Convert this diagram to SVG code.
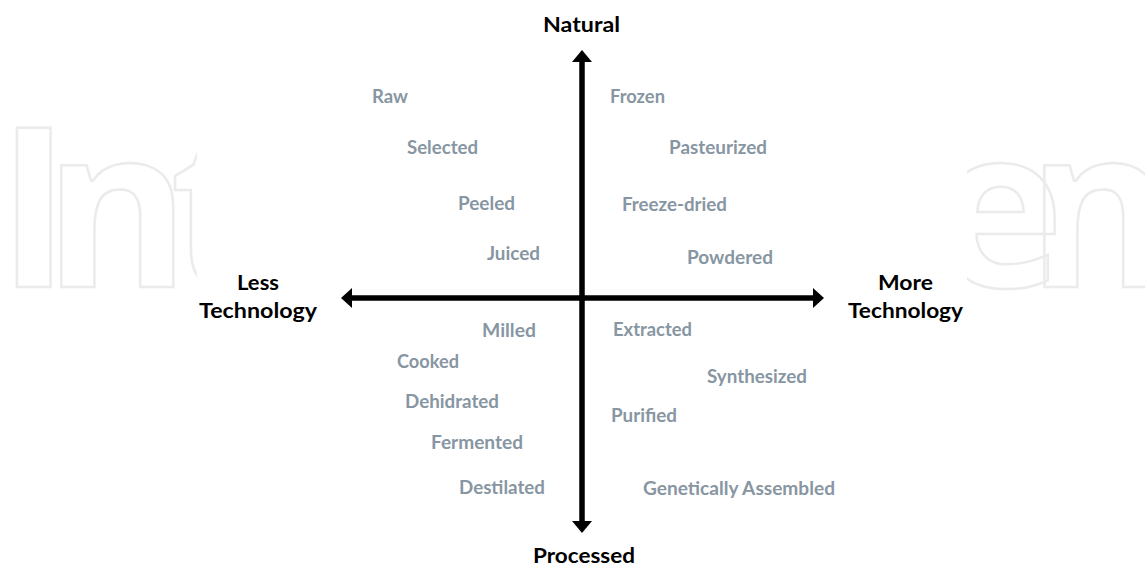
<svg xmlns="http://www.w3.org/2000/svg" width="1145" height="566" viewBox="0 0 1145 566">
<style>
.wm{font-family:"Open Sans",sans-serif;font-weight:700;font-size:222px;fill:none;stroke:#ebebeb;stroke-width:2.5}
.g{font-family:Lato,"Liberation Sans",sans-serif;font-weight:700;font-size:18px;fill:#8796a2}
.b{font-family:Lato,"Liberation Sans",sans-serif;font-weight:700;font-size:21.5px;fill:#000}
.ax{fill:none;stroke:#000;stroke-width:5.5}
.ah{fill:#000}
</style>
<defs>
<clipPath id="wmclip"><rect x="0" y="0" width="197" height="566"/><rect x="967" y="0" width="178" height="566"/></clipPath>
</defs>
<rect width="1145" height="566" fill="#fff"/>
<g id="watermark" clip-path="url(#wmclip)">
<text class="wm" x="-3 44 170" y="287">Int</text>
<text class="wm" x="933 1027" y="287">en</text>
</g>
<g id="connectors">
<line class="ax" x1="582" y1="60" x2="582" y2="522"/>
<path class="ah" d="M582,50 L592,62 L572,62 Z"/>
<path class="ah" d="M582,533 L592,521 L572,521 Z"/>
<line class="ax" x1="351" y1="298" x2="814" y2="298"/>
<path class="ah" d="M341,298 L352,288 L352,308 Z"/>
<path class="ah" d="M824,298 L813,288 L813,308 Z"/>
</g>
<g id="axis-natural"><text class="b" x="543" y="32" textLength="77" lengthAdjust="spacingAndGlyphs">Natural</text></g>
<g id="axis-processed"><text class="b" x="533" y="563" textLength="102" lengthAdjust="spacingAndGlyphs">Processed</text></g>
<g id="axis-less"><text class="b" x="237" y="290" textLength="42" lengthAdjust="spacingAndGlyphs">Less</text><text class="b" x="199" y="318" textLength="118" lengthAdjust="spacingAndGlyphs">Technology</text></g>
<g id="axis-more"><text class="b" x="878" y="290" textLength="55" lengthAdjust="spacingAndGlyphs">More</text><text class="b" x="848" y="318" textLength="115" lengthAdjust="spacingAndGlyphs">Technology</text></g>
<g id="n-raw"><text class="g" x="372" y="103" textLength="36" lengthAdjust="spacingAndGlyphs">Raw</text></g>
<g id="n-selected"><text class="g" x="407" y="154" textLength="71" lengthAdjust="spacingAndGlyphs">Selected</text></g>
<g id="n-peeled"><text class="g" x="458" y="210" textLength="57" lengthAdjust="spacingAndGlyphs">Peeled</text></g>
<g id="n-juiced"><text class="g" x="487" y="260" textLength="53" lengthAdjust="spacingAndGlyphs">Juiced</text></g>
<g id="n-frozen"><text class="g" x="610" y="103" textLength="55" lengthAdjust="spacingAndGlyphs">Frozen</text></g>
<g id="n-pasteurized"><text class="g" x="669" y="154" textLength="98" lengthAdjust="spacingAndGlyphs">Pasteurized</text></g>
<g id="n-freeze-dried"><text class="g" x="622" y="211" textLength="105" lengthAdjust="spacingAndGlyphs">Freeze-dried</text></g>
<g id="n-powdered"><text class="g" x="687" y="264" textLength="86" lengthAdjust="spacingAndGlyphs">Powdered</text></g>
<g id="n-milled"><text class="g" x="482" y="337" textLength="54" lengthAdjust="spacingAndGlyphs">Milled</text></g>
<g id="n-cooked"><text class="g" x="397" y="368" textLength="62" lengthAdjust="spacingAndGlyphs">Cooked</text></g>
<g id="n-dehidrated"><text class="g" x="405" y="408" textLength="94" lengthAdjust="spacingAndGlyphs">Dehidrated</text></g>
<g id="n-fermented"><text class="g" x="431" y="449" textLength="92" lengthAdjust="spacingAndGlyphs">Fermented</text></g>
<g id="n-destilated"><text class="g" x="459" y="494" textLength="86" lengthAdjust="spacingAndGlyphs">Destilated</text></g>
<g id="n-extracted"><text class="g" x="613" y="336" textLength="79" lengthAdjust="spacingAndGlyphs">Extracted</text></g>
<g id="n-synthesized"><text class="g" x="707" y="383" textLength="100" lengthAdjust="spacingAndGlyphs">Synthesized</text></g>
<g id="n-purified"><text class="g" x="611" y="422" textLength="66" lengthAdjust="spacingAndGlyphs">Purified</text></g>
<g id="n-genetically-assembled"><text class="g" x="643" y="495" textLength="192" lengthAdjust="spacingAndGlyphs">Genetically Assembled</text></g>
</svg>
